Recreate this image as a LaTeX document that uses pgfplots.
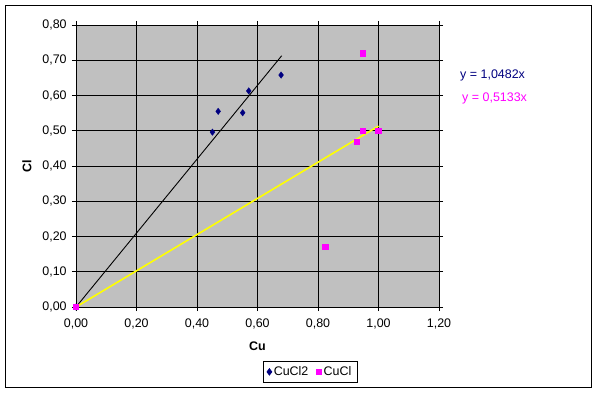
\documentclass[border=0pt]{standalone}
\usepackage{pgfplots}
\pgfplotsset{compat=1.18}
\usepackage{fontspec}
\setmainfont{Liberation Sans}
\definecolor{plotgray}{HTML}{C0C0C0}
\definecolor{navyblue}{HTML}{000080}
\definecolor{magentac}{HTML}{FF00FF}
\definecolor{yellowc}{HTML}{FFFF00}
\newcommand{\chartfont}{\fontsize{12.5}{14.5}\selectfont}
\begin{document}
\chartfont
\begin{tikzpicture}
\useasboundingbox[fill=white] (0bp,0bp) rectangle (595bp,393bp);
\draw[black,line width=0.8bp] (5bp,6bp) rectangle (591bp,388bp);
\begin{axis}[
  at={(76bp,86bp)}, anchor=south west,
  scale only axis, width=363bp, height=282bp,
  xmin=0, xmax=1.2, ymin=0, ymax=0.8,
  xtick={0,0.2,...,1.21}, ytick={0,0.1,...,0.81},
  axis background/.style={fill=plotgray},
  grid=major, major grid style={black, line width=0.8bp},
  axis line style={black, line width=0.8bp},
  tick align=outside, major tick length=4bp,
  tick style={black, line width=0.8bp},
  xticklabel style={font=\chartfont, yshift=-3bp},
  yticklabel style={font=\chartfont, xshift=-1bp},
  /pgf/number format/.cd, fixed, fixed zerofill, precision=2, use comma, assume math mode=true,
  /pgfplots/.cd,
  xlabel={\textbf{Cu}}, ylabel={\textbf{Cl}},
  xlabel style={at={(0.5,-0.14)}, anchor=center, font=\chartfont},
  ylabel style={at={(-0.135,0.5)}, anchor=center, font=\chartfont},
  legend columns=2,
  legend style={at={(0.645,-0.230)}, anchor=center, draw=black, line width=0.8bp,
    font=\chartfont, inner xsep=4bp, inner ysep=3bp,
    /tikz/every even column/.append style={column sep=6bp}},
  legend cell align=left,
  clip=false,
]
\addplot[black, line width=0.9bp, forget plot] coordinates {(0,0) (0.68,0.7128)};
\addplot[yellowc, line width=1.6bp, forget plot] coordinates {(0,0) (1.0,0.5133)};
\addplot[only marks, mark=diamond*, mark size=3.2bp, navyblue, mark options={fill=navyblue, draw=navyblue}]
  coordinates {(0,0) (0.451,0.496) (0.470,0.555) (0.551,0.551) (0.571,0.613) (0.678,0.658)};
\addlegendentry{CuCl2}
\addplot[only marks, mark=square*, mark size=2.6bp, magentac, mark options={fill=magentac, draw=magentac}]
  coordinates {(0,0) (0.824,0.172) (0.928,0.470) (0.948,0.500) (0.948,0.720) (0.999,0.500)};
\addlegendentry{CuCl}
\end{axis}
\node[anchor=west, text=navyblue, inner sep=0] at (460bp,318bp) {y = 1,0482x};
\node[anchor=west, text=magentac, inner sep=0] at (462bp,295bp) {y = 0,5133x};
\end{tikzpicture}
\end{document}
